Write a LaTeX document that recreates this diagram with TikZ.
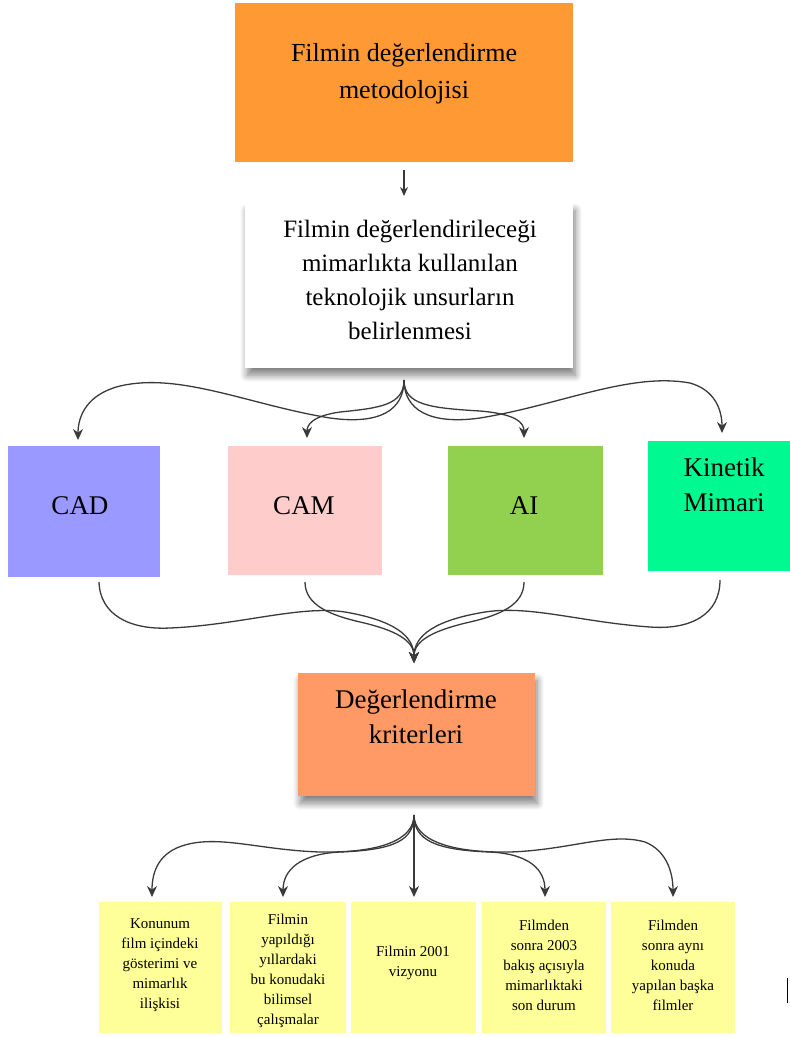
\documentclass[tikz,border=0pt]{standalone}
\usepackage{fontspec}
\setmainfont{Liberation Serif}
\usetikzlibrary{arrows.meta,shadows.blur}
\definecolor{topor}{HTML}{FF9933}
\definecolor{cadc}{HTML}{9999FF}
\definecolor{camc}{HTML}{FFCCCC}
\definecolor{aic}{HTML}{92D050}
\definecolor{kinc}{HTML}{00F990}
\definecolor{kric}{HTML}{FF9966}
\definecolor{yelc}{HTML}{FFFF99}
\definecolor{arrc}{HTML}{3A3A3A}
\tikzset{
  boxx/.style={draw=none,inner sep=0pt,anchor=north west},
  toptxtst/.style={align=center,font=\fontsize{26}{37}\selectfont,text=black},
  bigtxt/.style={align=center,font=\fontsize{25}{34}\selectfont,text=black},
  midtxt/.style={align=center,font=\fontsize{27}{35}\selectfont,text=black},
  smalltxt/.style={align=center,font=\fontsize{15}{20}\selectfont,text=black},
  conn/.style={draw=arrc,line width=1.3pt,-{Stealth[length=11pt,width=10pt]}},
  shad/.style={blur shadow={shadow xshift=2pt,shadow yshift=-7pt,shadow blur radius=7pt,shadow blur steps=10,shadow opacity=50}}
}
\begin{document}
\begin{tikzpicture}[x=1pt,y=-1pt]
\useasboundingbox (0,0) rectangle (790,1037);
% boxes
\node[boxx,fill=topor,minimum width=338pt,minimum height=159pt] (top) at (235,3) {};
\node[toptxtst] (toptxt) at (404,74) {Filmin değerlendirme\\metodolojisi};
\node[boxx,fill=white,shad,minimum width=328pt,minimum height=165pt] (tech) at (245,203) {};
\node[bigtxt] (techtxt) at (410,280) {Filmin değerlendirileceği\\mimarlıkta kullanılan\\teknolojik unsurların\\belirlenmesi};
\node[boxx,fill=cadc,minimum width=152pt,minimum height=131pt] (cad) at (8,446) {};
\node[midtxt] (cadtxt) at (80,506) {CAD};
\node[boxx,fill=camc,minimum width=154pt,minimum height=129pt] (cam) at (228,446) {};
\node[midtxt] (camtxt) at (304,506) {CAM};
\node[boxx,fill=aic,minimum width=155pt,minimum height=129pt] (ai) at (448,446) {};
\node[midtxt] (aitxt) at (524,506) {AI};
\node[boxx,fill=kinc,minimum width=142pt,minimum height=130pt] (kin) at (648,441) {};
\node[midtxt] (kintxt) at (724,485) {Kinetik\\Mimari};
\node[boxx,fill=kric,shad,minimum width=237pt,minimum height=123pt] (kri) at (298,673) {};
\node[midtxt] (kritxt) at (416,717) {Değerlendirme\\kriterleri};
% yellow boxes
\node[boxx,fill=yelc,minimum width=123pt,minimum height=131pt] (y1) at (99,902) {};
\node[smalltxt] (y1t) at (160,965) {Konunum\\film içindeki\\gösterimi ve\\mimarlık\\ilişkisi};
\node[boxx,fill=yelc,minimum width=116pt,minimum height=131pt] (y2) at (230,902) {};
\node[smalltxt] (y2t) at (288,971) {Filmin\\yapıldığı\\yıllardaki\\bu konudaki\\bilimsel\\çalışmalar};
\node[boxx,fill=yelc,minimum width=125pt,minimum height=131pt] (y3) at (351,902) {};
\node[smalltxt] (y3t) at (413,963) {Filmin 2001\\vizyonu};
\node[boxx,fill=yelc,minimum width=124pt,minimum height=131pt] (y4) at (482,902) {};
\node[smalltxt] (y4t) at (544,965) {Filmden\\sonra 2003\\bakış açısıyla\\mimarlıktaki\\son durum};
\node[boxx,fill=yelc,minimum width=124pt,minimum height=131pt] (y5) at (611,902) {};
\node[smalltxt] (y5t) at (673,965) {Filmden\\sonra aynı\\konuda\\yapılan başka\\filmler};
% coordinates
\coordinate (a0) at (404,170);
\coordinate (a1) at (404,196);
\coordinate (h1) at (404,380);
\coordinate (t1) at (78,440);
\coordinate (t2) at (307,438);
\coordinate (t3) at (524,438);
\coordinate (t4) at (722,433);
\coordinate (s1) at (99,582);
\coordinate (s2) at (305,582);
\coordinate (s3) at (524,582);
\coordinate (s4) at (720,580);
\coordinate (h2) at (414,663);
\coordinate (h3) at (414,815);
\coordinate (b1) at (152,897);
\coordinate (b2) at (283,897);
\coordinate (b3) at (414,897);
\coordinate (b4) at (545,897);
\coordinate (b5) at (673,897);
% connectors
\draw[draw=arrc,line width=1.2pt,-{Stealth[length=9pt,width=8pt]}] (a0) -- (a1);
\draw[conn] (h1) .. controls (404,410) and (380,425) .. (330,418) .. controls (250,405) and (180,372) .. (120,386) .. controls (88,394) and (78,415) .. (t1);
\draw[conn] (h1) .. controls (404,405) and (380,408) .. (340,412) .. controls (312,416) and (307,425) .. (t2);
\draw[conn] (h1) .. controls (404,405) and (430,408) .. (480,411) .. controls (515,414) and (524,422) .. (t3);
\draw[conn] (h1) .. controls (404,410) and (430,425) .. (480,418) .. controls (560,405) and (630,372) .. (690,383) .. controls (715,390) and (722,410) .. (t4);
\draw[conn] (s1) .. controls (100,615) and (130,630) .. (170,628) .. controls (240,625) and (300,605) .. (345,612) .. controls (392,620) and (414,635) .. (h2);
\draw[conn] (s2) .. controls (305,605) and (330,615) .. (360,622) .. controls (395,630) and (414,640) .. (h2);
\draw[conn] (s3) .. controls (524,605) and (500,615) .. (470,622) .. controls (435,630) and (414,640) .. (h2);
\draw[conn] (s4) .. controls (720,615) and (690,630) .. (650,627) .. controls (580,622) and (530,605) .. (485,612) .. controls (436,620) and (414,635) .. (h2);
\draw[conn] (h3) .. controls (414,840) and (380,853) .. (320,852) .. controls (260,850) and (220,835) .. (185,845) .. controls (160,852) and (152,870) .. (b1);
\draw[conn] (h3) .. controls (414,840) and (395,850) .. (340,852) .. controls (300,854) and (283,870) .. (b2);
\draw[conn] (h3) -- (b3);
\draw[conn] (h3) .. controls (414,840) and (435,850) .. (490,852) .. controls (530,854) and (545,870) .. (b4);
\draw[conn] (h3) .. controls (414,840) and (450,853) .. (510,852) .. controls (570,850) and (610,832) .. (645,842) .. controls (665,850) and (673,870) .. (b5);
% stray cursor mark
\draw[black,line width=1pt] (787,978) -- (787,1003);
\end{tikzpicture}
\end{document}
